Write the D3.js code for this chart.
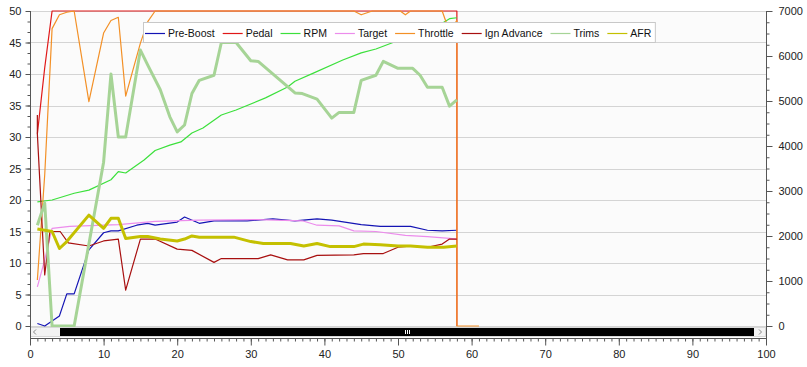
<!DOCTYPE html>
<html>
<head>
<meta charset="UTF-8">
<title>Log</title>
<script src="https://cdn.jsdelivr.net/npm/d3@7/dist/d3.min.js"></script>
<style type="text/css">
body { margin:0; background:#fff; }
svg { display:block; font-family:"Liberation Sans", Arial, sans-serif; font-size:11px; }
</style>
</head>
<body>
<div class="chart"></div>
<script>
// values, [time, value]
var preBoost = [[1,0.4],[2,0],[4,1.6],[5,5.1],[6,5.1],[8,12.1],[10,14.8],[11,15.1],[12,15.1],[14.5,16],[16,16.3],[17,16],[20,16.5],[21,17.3],[23,16.3],[25,16.7],[29.5,16.7],[33,17],[36,16.7],[39,17],[41,16.8],[45,16.1],[47.6,15.8],[51.7,15.8],[54,15.2],[56,15.1],[58,15.2]];
var pedal = [[1,30.5],[2,41],[3,50],[58,50],[58,0]];
var rpm = [[1,2760],[3,2800],[6,2950],[8,3020],[11,3250],[12,3430],[13,3400],[15.5,3690],[17,3900],[19,4020],[20.5,4090],[22,4290],[23.5,4400],[26,4690],[28,4800],[32,5070],[35,5310],[36,5440],[38.5,5620],[42.5,5910],[45,6070],[47,6155],[49.5,6310],[51,6420],[54,6580],[56,6730],[57,6830],[58,6850]];
var target = [[1,6.2],[2,10.5],[3,15.5],[5.4,15.8],[12,16.1],[17,16.6],[23,16.8],[31,16.9],[37,16.7],[39,16],[42,15.9],[44,15.1],[47,15],[51,14.4],[54,14.2],[57,13.9],[58,13.8]];
var throttle = [[1,7.3],[2,24],[3,47.2],[4,49.4],[5,49.8],[6,50],[8,35.6],[10,46.5],[11,48.5],[12,49],[13,36.5],[15,44.9],[16,48.3],[17,50],[44,50],[45,49.4],[46.5,50],[50.3,50],[51,49.4],[51.7,50],[56,50],[57,46.7],[58,48.5],[58,0],[61,0]];
var ignAdvance = [[1,33.5],[1,30.5],[2,8.1],[2.7,15],[4.1,15],[5.2,13.2],[8,12.7],[10,13.5],[12,13.8],[13,5.7],[15,13.8],[17,13.8],[20,12.2],[22,12],[25,10.1],[26,10.7],[31,10.7],[32.7,11.3],[35,10.5],[37.2,10.5],[39,11.2],[44,11.3],[45.3,11.5],[48,11.5],[50,12.5],[52,12.7],[54,12.5],[56,13],[57,13.8],[58,13.8]];
var trims = [[1,16],[2,19.5],[3,0],[6,0],[10,26],[11,40],[12,30],[13,30],[15,43.8],[16,41.4],[17.7,37.5],[19,33.2],[20,30.8],[21,31.9],[22,36.9],[23,39],[25,39.8],[26,45],[28,45],[30,42.1],[31,42],[36,37],[37,36.9],[39,36],[41,33],[42,33.9],[44,33.9],[45,39],[47,39.8],[48,42],[50,40.9],[52,40.9],[53,39.8],[54,37.9],[56,37.9],[57,34.9],[58,35.9]];
var afr = [[1,15.4],[3,15],[4,12.3],[5,13.4],[8,17.6],[10,15.5],[11,17.1],[12,17.1],[13,13.9],[15,14.2],[16,14.2],[17.7,13.8],[20,13.5],[21,13.8],[22,14.3],[23,14.1],[27.7,14.1],[30,13.4],[31.7,13.1],[35.4,13.1],[37.2,12.7],[39,13.1],[40.8,12.6],[44,12.6],[45.3,13],[47.6,12.9],[50,12.7],[51.7,12.7],[54,12.5],[56.2,12.5],[58,12.7]];

var names = ["Pre-Boost","Pedal","RPM","Target","Throttle","Ign Advance","Trims","AFR"];
var leftTicks = d3.range(0, 51, 5);
var rightTicks = d3.range(0, 7001, 1000);
var xTicks = d3.range(0, 101, 10);

var series = [
	{name:names[0], data:preBoost, color:"#1414b4", width:1.2, axis:"L"},
	{name:names[1], data:pedal, color:"#e01818", width:1.2, axis:"L"},
	{name:names[2], data:rpm, color:"#3ce03c", width:1.2, axis:"R"},
	{name:names[3], data:target, color:"#ec8cec", width:1.2, axis:"L"},
	{name:names[4], data:throttle, color:"#f39026", width:1.2, axis:"L"},
	{name:names[5], data:ignAdvance, color:"#a81010", width:1.2, axis:"L"},
	{name:names[6], data:trims, color:"#a6d496", width:3, axis:"L"},
	{name:names[7], data:afr, color:"#c4c000", width:3, axis:"L"}
];

var W = 807, H = 367;
var pLeft = 30, pRight = 766, pTop = 11, pBottom = 326, axisY = 338;

var svg = d3.select(".chart").append("svg")
	.attr("width", W)
	.attr("height", H);

var x = d3.scaleLinear().domain([0,100]).range([pLeft,pRight]);
var yL = d3.scaleLinear().domain([0,50]).range([pBottom,pTop]);
var yR = d3.scaleLinear().domain([0,7000]).range([pBottom,pTop]);

// plot background + grid
svg.append("rect")
	.attr("x", pLeft).attr("y", pTop)
	.attr("width", pRight-pLeft).attr("height", pBottom-pTop)
	.attr("fill", "#fbfbfb");

svg.append("g").selectAll("line")
	.data(leftTicks)
	.enter().append("line")
	.attr("x1", pLeft).attr("x2", pRight)
	.attr("y1", function(d){ return Math.round(yL(d))+0.5; })
	.attr("y2", function(d){ return Math.round(yL(d))+0.5; })
	.attr("stroke", "#d4d4d4");

svg.append("clipPath").attr("id","plotclip")
	.append("rect").attr("x", pLeft).attr("y", pTop-2).attr("width", pRight-pLeft).attr("height", pBottom-pTop+3);

var plot = svg.append("g").attr("clip-path","url(#plotclip)");

series.forEach(function(s){
	var ys = s.axis == "R" ? yR : yL;
	var line = d3.line()
		.x(function(d){ return x(d[0]); })
		.y(function(d){ return ys(d[1]); });
	plot.append("path")
		.datum(s.data)
		.attr("d", line)
		.attr("fill", "none")
		.attr("stroke", s.color)
		.attr("stroke-width", s.width)
		.attr("stroke-linejoin", "round");
});

// scrollbar
svg.append("rect")
	.attr("x", pLeft+0.5).attr("y", 327.5)
	.attr("width", pRight-pLeft-1).attr("height", 9)
	.attr("fill", "#f3f3f3").attr("stroke", "#d8d8d8");
svg.append("rect")
	.attr("x", 60).attr("y", 328)
	.attr("width", 694).attr("height", 8)
	.attr("fill", "#000");
[405,407,409].forEach(function(gx){
	svg.append("line").attr("x1", gx+0.5).attr("x2", gx+0.5).attr("y1", 330).attr("y2", 334)
		.attr("stroke", "#fff");
});
svg.append("path").attr("d","M36,329.5 L33.5,332 L36,334.5").attr("fill","none").attr("stroke","#888");
svg.append("path").attr("d","M759,329.5 L761.5,332 L759,334.5").attr("fill","none").attr("stroke","#888");

// axes
function styleAxis(g){
	g.select(".domain").remove();
	g.selectAll("line").attr("stroke", "#555");
	g.selectAll("text").attr("fill", "#222").style("font-size","11px").style("font-family",'"Liberation Sans", Arial, sans-serif');
}

svg.append("g")
	.attr("transform","translate("+(pLeft+0.5)+",0)")
	.call(d3.axisLeft(yL).tickValues(d3.range(0,50.01,5/3)).tickSize(3).tickFormat(""))
	.call(styleAxis);
svg.append("g")
	.attr("transform","translate("+(pLeft+0.5)+",0)")
	.call(d3.axisLeft(yL).tickValues(leftTicks).tickSize(5).tickPadding(4))
	.call(styleAxis);

svg.append("g")
	.attr("transform","translate("+(pRight+0.5)+",0)")
	.call(d3.axisRight(yR).tickValues(d3.range(0,7001,250)).tickSize(3).tickFormat(""))
	.call(styleAxis);
svg.append("g")
	.attr("transform","translate("+(pRight+0.5)+",0)")
	.call(d3.axisRight(yR).tickValues(rightTicks).tickSize(6).tickPadding(6).tickFormat(d3.format("d")))
	.call(styleAxis);

svg.append("g")
	.attr("transform","translate(0,"+(axisY+0.5)+")")
	.call(d3.axisBottom(x).tickValues(d3.range(0,101,1)).tickSize(3).tickFormat(""))
	.call(styleAxis);
svg.append("g")
	.attr("transform","translate(0,"+(axisY+0.5)+")")
	.call(d3.axisBottom(x).tickValues(xTicks).tickSize(7).tickPadding(5))
	.call(styleAxis);

// axis lines
svg.append("line").attr("x1", pLeft+0.5).attr("x2", pLeft+0.5).attr("y1", pTop).attr("y2", axisY).attr("stroke","#555");
svg.append("line").attr("x1", pRight+0.5).attr("x2", pRight+0.5).attr("y1", pTop).attr("y2", axisY+7).attr("stroke","#555");
svg.append("line").attr("x1", pLeft).attr("x2", pRight).attr("y1", axisY+0.5).attr("y2", axisY+0.5).attr("stroke","#555");

// legend
var legend = svg.append("g");
var legendBox = legend.append("rect")
	.attr("x", 143.5).attr("y", 22.5).attr("height", 20)
	.attr("fill", "#fff").attr("stroke", "#c8c8c8");
var lx = 145;
series.forEach(function(s){
	legend.append("line")
		.attr("x1", lx).attr("x2", lx+20)
		.attr("y1", 33.5).attr("y2", 33.5)
		.attr("stroke", s.color).attr("stroke-width", 1.2);
	var t = legend.append("text")
		.attr("x", lx+23).attr("y", 37)
		.attr("fill", "#111")
		.style("font-size", "10.5px")
		.text(s.name);
	lx += 23 + t.node().getComputedTextLength() + 8;
});
legendBox.attr("width", lx - 143.5 - 4);
</script>
</body>
</html>
